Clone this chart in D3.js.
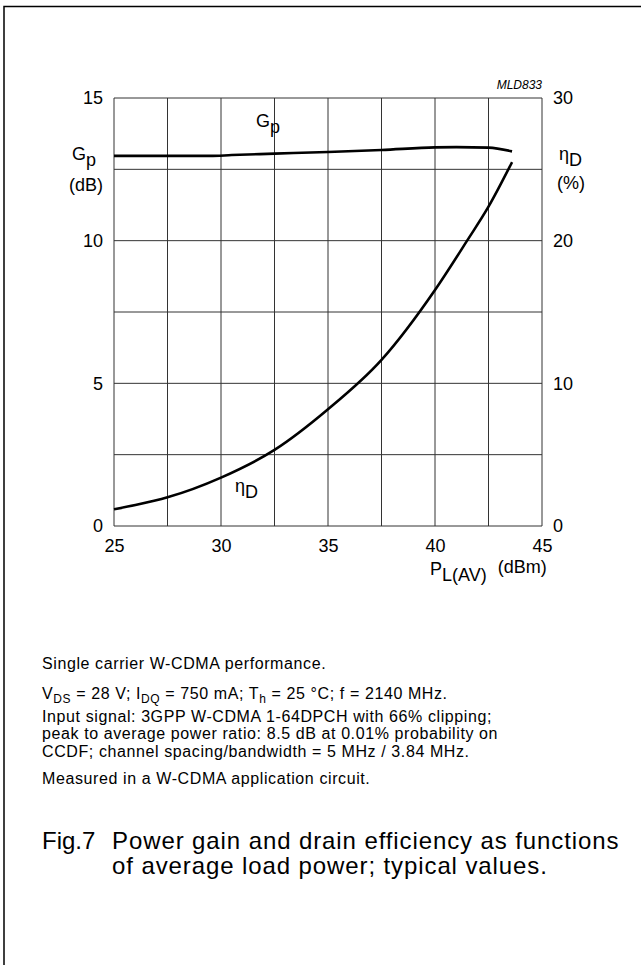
<!DOCTYPE html>
<html>
<head>
<meta charset="utf-8">
<script src="https://cdn.jsdelivr.net/npm/d3@7"></script>
<style>
  body { margin: 0; background: #fff; }
  text { font-family: "Liberation Sans", Arial, sans-serif; fill: #000; }
</style>
</head>
<body>
<div id="chart"></div>
<script>
// data
var gainPower = [25, 27.5, 29.5, 30.5, 32.5, 35, 37.5, 40, 41, 42.5, 43.6];
var gainValues = [12.97, 12.97, 12.97, 13.0, 13.05, 13.11, 13.18, 13.27, 13.28, 13.26, 13.13];
var effPower = [25, 26, 27.5, 30, 32.5, 35, 37.5, 40, 41.5, 42.5, 43.6];
var effValues = [1.17, 1.47, 2.01, 3.39, 5.33, 8.18, 11.64, 16.54, 20, 22.38, 25.5];
var xTicks = [25, 30, 35, 40, 45];
var leftTicks = [0, 5, 10, 15];
var rightTicks = [0, 10, 20, 30];
var gridX = [25, 27.5, 30, 32.5, 35, 37.5, 40, 42.5, 45];
var gridY = [0, 2.5, 5, 7.5, 10, 12.5, 15];

var plotLeft = 114;
var plotTop = 98;
var plotWidth = 428;
var plotHeight = 428;
var labelSize = 18;

var xScale = d3.scaleLinear().domain([25, 45]).range([0, plotWidth]);
var yLeft = d3.scaleLinear().domain([0, 15]).range([plotHeight, 0]);
var yRight = d3.scaleLinear().domain([0, 30]).range([plotHeight, 0]);

document.addEventListener('DOMContentLoaded', function () {
    var svg = d3.select('#chart')
        .append('svg')
        .attr('width', 641)
        .attr('height', 965);

    // page frame, left and top only
    svg.append('path')
        .attr('d', 'M4,965 V6.5 H641')
        .attr('fill', 'none')
        .attr('stroke', '#000')
        .attr('stroke-width', 1.5);

    var plot = svg.append('g')
        .attr('transform', 'translate(' + plotLeft + ',' + plotTop + ')');

    drawGrid(plot);
    drawAxes(plot);
    drawCurves(plot);
    drawLabels(svg);
    drawNotes(svg);
});

function drawGrid(plot) {
    plot.selectAll('.vgrid')
        .data(gridX)
        .enter()
        .append('line')
        .attr('x1', function (d) { return xScale(d); })
        .attr('x2', function (d) { return xScale(d); })
        .attr('y1', 0)
        .attr('y2', plotHeight)
        .attr('stroke', '#333')
        .attr('stroke-width', 1);

    plot.selectAll('.hgrid')
        .data(gridY)
        .enter()
        .append('line')
        .attr('x1', 0)
        .attr('x2', plotWidth)
        .attr('y1', function (d) { return yLeft(d); })
        .attr('y2', function (d) { return yLeft(d); })
        .attr('stroke', '#333')
        .attr('stroke-width', 1);
}

function drawAxes(plot) {
    var xAxis = d3.axisBottom(xScale).tickValues(xTicks).tickSize(0).tickPadding(13);
    var lAxis = d3.axisLeft(yLeft).tickValues(leftTicks).tickSize(0).tickPadding(11);
    var rAxis = d3.axisRight(yRight).tickValues(rightTicks).tickSize(0).tickPadding(11);

    var gx = plot.append('g').attr('transform', 'translate(0,' + plotHeight + ')').call(xAxis);
    var gl = plot.append('g').call(lAxis);
    var gr = plot.append('g').attr('transform', 'translate(' + plotWidth + ',0)').call(rAxis);

    [gx, gl, gr].forEach(function (g) {
        g.select('.domain').remove();
        g.selectAll('text')
            .style('font-family', '"Liberation Sans", Arial, sans-serif')
            .style('font-size', labelSize + 'px');
    });
}

function drawCurves(plot) {
    var gainLine = d3.line()
        .x(function (d, i) { return xScale(gainPower[i]); })
        .y(function (d) { return yLeft(d); })
        .curve(d3.curveMonotoneX);

    var effLine = d3.line()
        .x(function (d, i) { return xScale(effPower[i]); })
        .y(function (d) { return yRight(d); })
        .curve(d3.curveMonotoneX);

    plot.append('path')
        .datum(gainValues)
        .attr('d', gainLine)
        .attr('fill', 'none')
        .attr('stroke', '#000')
        .attr('stroke-width', 2.6);

    plot.append('path')
        .datum(effValues)
        .attr('d', effLine)
        .attr('fill', 'none')
        .attr('stroke', '#000')
        .attr('stroke-width', 2.6);
}

function subLabel(svg, x, y, main, sub, size, anchor) {
    var t = svg.append('text')
        .attr('x', x)
        .attr('y', y)
        .attr('text-anchor', anchor || 'start')
        .style('font-size', size + 'px');
    t.append('tspan').text(main);
    t.append('tspan').attr('dy', size * 0.32).text(sub);
    return t;
}

function drawLabels(svg) {
    svg.append('text')
        .attr('x', 542)
        .attr('y', 89)
        .attr('text-anchor', 'end')
        .style('font-size', '12px')
        .style('font-style', 'italic')
        .text('MLD833');

    // left axis title
    subLabel(svg, 72, 160, 'G', 'p', labelSize);
    svg.append('text')
        .attr('x', 103)
        .attr('y', 191)
        .attr('text-anchor', 'end')
        .style('font-size', labelSize + 'px')
        .text('(dB)');

    // right axis title
    subLabel(svg, 559, 160, 'η', 'D', labelSize);
    svg.append('text')
        .attr('x', 557)
        .attr('y', 189)
        .style('font-size', labelSize + 'px')
        .text('(%)');

    // x axis title
    var xt = svg.append('text')
        .attr('x', 430)
        .attr('y', 575)
        .style('font-size', labelSize + 'px');
    xt.append('tspan').text('P');
    xt.append('tspan').attr('dy', 6).text('L(AV)');
    xt.append('tspan').attr('dy', -8).attr('dx', 6).text(' (dBm)');

    // curve labels
    subLabel(svg, 256, 127, 'G', 'p', labelSize);
    subLabel(svg, 235, 492, 'η', 'D', labelSize);
}

function drawNotes(svg) {
    var notes = svg.append('g')
        .style('font-size', '16px')
        .style('letter-spacing', '0.6px');
    var left = 42;

    notes.append('text').attr('x', left).attr('y', 669)
        .text('Single carrier W-CDMA performance.');

    var v = notes.append('text').attr('x', left).attr('y', 699);
    v.append('tspan').text('V');
    v.append('tspan').attr('dy', 4).style('font-size', '12px').text('DS');
    v.append('tspan').attr('dy', -4).text(' = 28 V; I');
    v.append('tspan').attr('dy', 4).style('font-size', '12px').text('DQ');
    v.append('tspan').attr('dy', -4).text(' = 750 mA; T');
    v.append('tspan').attr('dy', 4).style('font-size', '12px').text('h');
    v.append('tspan').attr('dy', -4).text(' = 25 °C; f = 2140 MHz.');

    notes.append('text').attr('x', left).attr('y', 722)
        .text('Input signal: 3GPP W-CDMA 1-64DPCH with 66% clipping;');
    notes.append('text').attr('x', left).attr('y', 739)
        .text('peak to average power ratio: 8.5 dB at 0.01% probability on');
    notes.append('text').attr('x', left).attr('y', 757)
        .text('CCDF; channel spacing/bandwidth = 5 MHz / 3.84 MHz.');
    notes.append('text').attr('x', left).attr('y', 784)
        .text('Measured in a W-CDMA application circuit.');

    var cap = svg.append('g')
        .style('font-size', '24px')
        .style('letter-spacing', '0.9px');
    cap.append('text').attr('x', left).attr('y', 849).style('letter-spacing', '0px').text('Fig.7');
    cap.append('text').attr('x', 112).attr('y', 849)
        .text('Power gain and drain efficiency as functions');
    cap.append('text').attr('x', 112).attr('y', 874)
        .text('of average load power; typical values.');
}
</script>
</body>
</html>
